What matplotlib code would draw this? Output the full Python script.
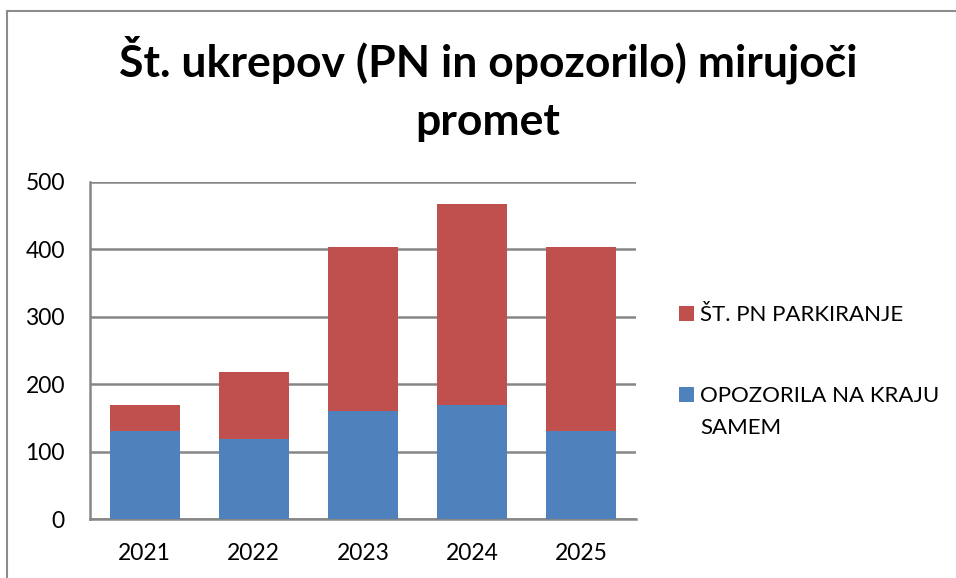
import matplotlib
matplotlib.use("Agg")
import matplotlib.pyplot as plt
from matplotlib.patches import Rectangle

years = ["2021", "2022", "2023", "2024", "2025"]
opozorila = [130, 119, 160, 169, 130]
pn_parkiranje = [39, 99, 243, 298, 273]
yticks = [0, 100, 200, 300, 400, 500]

title_l1 = "Št. ukrepov (PN in opozorilo) mirujoči"
title_l2 = "promet"
label_pn = "ŠT. PN PARKIRANJE"
label_op = "OPOZORILA NA KRAJU\nSAMEM"

blue = "#4F81BD"
red = "#C0504D"
grid_c = "#868686"

W, H = 956, 578
plt.rcParams['font.family'] = ['Lato', 'DejaVu Sans']
fig = plt.figure(figsize=(W / 100, H / 100), dpi=100)

# outer chart border
fig.patches.append(Rectangle((7 / W, -0.05), 1.1, 1 - 11 / H + 0.05, transform=fig.transFigure,
                             fill=False, edgecolor="#8c8c8c", linewidth=1.5))

ax = fig.add_axes([90 / W, 1 - 519 / H, (636 - 90) / W, (519 - 182) / H])
x = list(range(len(years)))
ax.bar(x, opozorila, width=0.64, color=blue, zorder=3)
ax.bar(x, pn_parkiranje, width=0.64, bottom=opozorila, color=red, zorder=3)

ax.set_xlim(-0.5, len(years) - 0.5)
ax.set_ylim(0, 500)
ax.set_yticks(yticks)
ax.set_yticklabels([str(v) for v in yticks], fontsize=16.5)
ax.set_xticks(x)
ax.set_xticklabels(years, fontsize=16.5)
ax.tick_params(axis='both', length=0, colors='black')
ax.tick_params(axis='y', pad=18)
ax.tick_params(axis='x', pad=17)
ax.yaxis.grid(True, color=grid_c, linewidth=1.8, zorder=0)
for s in ["top", "right"]:
    ax.spines[s].set_visible(False)
for s in ["left", "bottom"]:
    ax.spines[s].set_color(grid_c)
    ax.spines[s].set_linewidth(1.8)

# title (two lines, as in the reference)
fig.text(488 / W, 1 - 76 / H, title_l1, ha='center', va='baseline', fontsize=32,
         fontweight='bold')
fig.text(488 / W, 1 - 135 / H, title_l2, ha='center', va='baseline', fontsize=32,
         fontweight='bold')

# legend (square aligned with the first line of each label)
legend_items = [(label_pn, red, 313), (label_op, blue, 394)]
for label, color, yc in legend_items:
    fig.patches.append(Rectangle((679 / W, 1 - (yc + 7.5) / H), 15 / W, 15 / H,
                                 transform=fig.transFigure, facecolor=color,
                                 edgecolor='none'))
    fig.text(700 / W, 1 - (yc + 8) / H, label.split("\n")[0], ha='left',
             va='baseline', fontsize=16)
    for i, extra in enumerate(label.split("\n")[1:], start=1):
        fig.text(700 / W, 1 - (yc + 8 + 31.7 * i) / H, extra, ha='left',
                 va='baseline', fontsize=16)

fig.savefig("out.png", dpi=100)
